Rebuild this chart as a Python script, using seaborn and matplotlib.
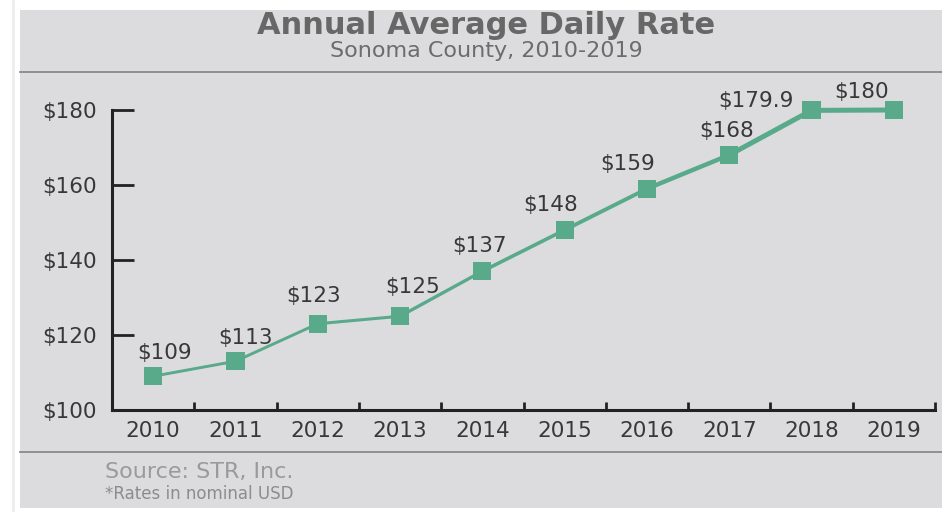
import matplotlib
matplotlib.use("Agg")
import matplotlib.pyplot as plt
from matplotlib.patches import Rectangle
from matplotlib.lines import Line2D
import seaborn as sns
import pandas as pd

years = ["2010", "2011", "2012", "2013", "2014", "2015", "2016", "2017", "2018", "2019"]
rates = [109, 113, 123, 125, 137, 148, 159, 168, 179.9, 180]
labels = ["$109", "$113", "$123", "$125", "$137", "$148", "$159", "$168", "$179.9", "$180"]
y_ticks = [100, 120, 140, 160, 180]
y_ticklabels = ["$100", "$120", "$140", "$160", "$180"]

# label offsets (points) - layout only
label_dx = [8, 7, -3, 9, -2, -10, -14, -2, -40, -23]
label_dy = [17, 17, 20, 21, 18, 18, 18, 17, 7, 13]
seg_widths = [2.1, 2.1, 2.2, 2.4, 2.6, 2.8, 3.2, 3.6, 3.6]

GREEN = "#58aa8b"
DARK = "#222222"
TXT = "#383838"

fig = plt.figure(figsize=(9.42, 5.12), dpi=100)
fig.patch.set_facecolor("white")
W, H = 942, 512
fig.patches.append(Rectangle((20 / W, 1 - 508 / H), (942 - 20) / W, (508 - 10) / H,
                             transform=fig.transFigure, facecolor="#dcdcde",
                             edgecolor="none", zorder=-10))
fig.lines.append(Line2D([13 / W, 13 / W], [0, 1], transform=fig.transFigure,
                        color="#ececec", lw=2, zorder=-9))
for yy in (72, 452):
    fig.lines.append(Line2D([20 / W, 1], [1 - yy / H] * 2, transform=fig.transFigure,
                            color="#8a8a8a", lw=1.3, zorder=-9))

ax = fig.add_axes([112 / W, 1 - 410 / H, (935 - 112) / W, 300 / H])
ax.set_facecolor("none")
ax.set_zorder(1)

df = pd.DataFrame({"x": range(len(years)), "rate": rates})
for i in range(len(years) - 1):
    sns.lineplot(data=df.iloc[i:i + 2], x="x", y="rate", ax=ax, color=GREEN,
                 linewidth=seg_widths[i], clip_on=False, solid_capstyle="round")
sns.scatterplot(data=df, x="x", y="rate", ax=ax, marker="s", s=170, color=GREEN,
                edgecolor="none", linewidth=0, clip_on=False, zorder=5)

for i, (v, lab) in enumerate(zip(rates, labels)):
    ax.annotate(lab, (i, v), xytext=(label_dx[i], label_dy[i]), textcoords="offset points",
                ha="center", va="center", fontsize=15.5, color=TXT)

ax.set_xlim(-0.5, len(years) - 0.5)
ax.set_ylim(100, 180)
ax.set_xticks(range(len(years)))
ax.set_xticklabels(years)
ax.set_xticks([k - 0.5 for k in range(len(years) + 1)], minor=True)
ax.set_yticks(y_ticks)
ax.set_yticklabels(y_ticklabels)
ax.tick_params(axis="x", which="major", length=0, pad=8, labelsize=15.5, labelcolor=TXT)
ax.tick_params(axis="x", which="minor", direction="in", length=6, width=2, color=DARK)
ax.tick_params(axis="y", which="major", direction="in", length=16, width=2, color=DARK,
               pad=11, labelsize=15.5, labelcolor=TXT)
ax.set_xlabel("")
ax.set_ylabel("")
for s in ("top", "right"):
    ax.spines[s].set_visible(False)
for s in ("left", "bottom"):
    ax.spines[s].set_linewidth(2.2)
    ax.spines[s].set_color(DARK)

fig.text(486 / W, 1 - 26 / H, "Annual Average Daily Rate", ha="center", va="center",
         fontsize=22, fontweight="bold", color="#676767")
fig.text(486 / W, 1 - 51 / H, "Sonoma County, 2010-2019", ha="center", va="center",
         fontsize=16, color="#6c6c6c")
fig.text(105 / W, 1 - 472 / H, "Source: STR, Inc.", ha="left", va="center",
         fontsize=16, color="#9a9a9a")
fig.text(105 / W, 1 - 494 / H, "*Rates in nominal USD", ha="left", va="center",
         fontsize=12, color="#8c8c8c")

fig.savefig("out.png", dpi=100)
